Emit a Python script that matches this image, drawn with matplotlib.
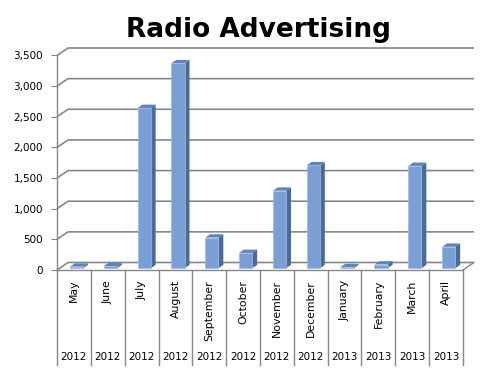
import matplotlib
matplotlib.use("Agg")
import matplotlib.pyplot as plt
from matplotlib.patches import Polygon, Rectangle
import matplotlib.transforms as mtransforms

months = ["May", "June", "July", "August", "September", "October",
          "November", "December", "January", "February", "March", "April"]
years = ["2012"] * 8 + ["2013"] * 4
values = [25, 35, 2615, 3345, 500, 250, 1265, 1680, 20, 60, 1670, 350]
yticks = [0, 500, 1000, 1500, 2000, 2500, 3000, 3500]

W, H = 500, 376
fig = plt.figure(figsize=(W / 100, H / 100), dpi=100)

# front plane of the plot in pixels
x_left, x_right = 57, 463
y_bottom, y_top = 270, 55.5
ax = fig.add_axes([x_left / W, (H - y_bottom) / H,
                   (x_right - x_left) / W, (y_bottom - y_top) / H])
n = len(months)
ymax = yticks[-1]
ax.set_xlim(0, n)
ax.set_ylim(0, ymax)

px_x = (x_right - x_left) / n
px_y = (y_bottom - y_top) / ymax
DX = 11 / px_x      # wall depth in data units
DY = 7.5 / px_y

grid_c = "#878787"

# back wall gridlines with diagonal on the side wall
for v in yticks:
    ax.plot([0, DX, n + DX], [v, v + DY, v + DY], color=grid_c, lw=1.2,
            clip_on=False, zorder=1, solid_capstyle="butt")
# right floor edge
ax.plot([n, n + DX], [0, DY], color=grid_c, lw=1.0, clip_on=False, zorder=1)

# 3d bars
bw, F, B = 0.39, 0.24, 0.44
front_c, side_c, top_c = "#7a9fd5", "#4a6a97", "#5d83bf"
for i, v in enumerate(values):
    x0 = i + 0.5 - bw / 2 + F * DX
    y0 = F * DY
    ddx, ddy = B * DX, B * DY
    side = Polygon([(x0 + bw, y0), (x0 + bw + ddx, y0 + ddy),
                    (x0 + bw + ddx, y0 + v + ddy), (x0 + bw, y0 + v)],
                   closed=True, fc=side_c, ec="none", clip_on=False, zorder=3)
    top = Polygon([(x0, y0 + v), (x0 + bw, y0 + v),
                   (x0 + bw + ddx, y0 + v + ddy), (x0 + ddx, y0 + v + ddy)],
                  closed=True, fc=top_c, ec="none", clip_on=False, zorder=3)
    front = Rectangle((x0, y0), bw, v, fc=front_c, ec="#9db8e0", lw=0.5,
                      clip_on=False, zorder=4)
    ax.add_patch(side)
    ax.add_patch(top)
    ax.add_patch(front)

# axes look
for s in ["top", "right"]:
    ax.spines[s].set_visible(False)
for s in ["left", "bottom"]:
    ax.spines[s].set_color(grid_c)
    ax.spines[s].set_linewidth(1.0)
ax.set_yticks(yticks)
ax.set_yticklabels([f"{t:,}" for t in yticks])
ax.tick_params(axis="y", length=4, color=grid_c, pad=6, labelsize=7.5)
ax.set_xticks([])

# multi level category axis
trans = mtransforms.blended_transform_factory(ax.transData, ax.transAxes)
h_px = y_bottom - y_top
for k in range(n + 1):
    ax.plot([k, k], [0, -95 / h_px], color=grid_c, lw=1.0,
            transform=trans, clip_on=False)
for i in range(n):
    ax.text(i + 0.5, -10 / h_px, months[i], rotation=90, ha="center",
            va="top", fontsize=7.8, transform=trans)
    ax.text(i + 0.5, -87 / h_px, years[i], ha="center", va="center",
            fontsize=7.5, transform=trans)

fig.text(259 / W, 1 - 37 / H, "Radio Advertising", ha="center",
         va="baseline", fontsize=19, fontweight="bold")

fig.savefig("out.png", dpi=100)
